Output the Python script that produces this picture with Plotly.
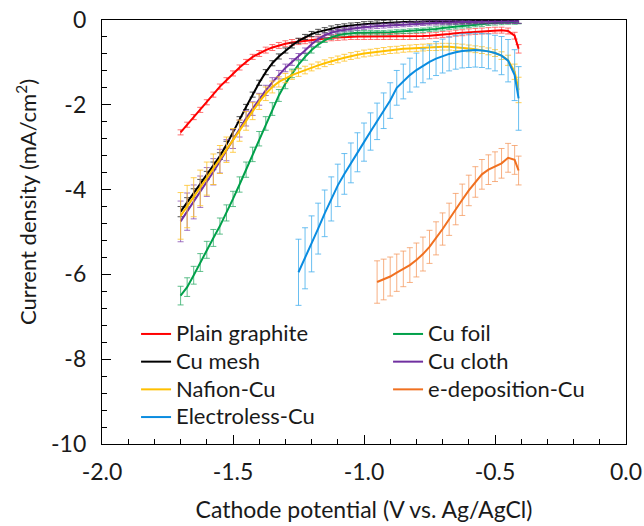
import plotly.graph_objects as go

# Cathode potential sampling points (V vs. Ag/AgCl)
POT = [-1.700, -1.675, -1.650, -1.625, -1.600, -1.575, -1.550, -1.525, -1.500, -1.475,
       -1.450, -1.425, -1.400, -1.375, -1.350, -1.325, -1.300, -1.275, -1.250, -1.225,
       -1.200, -1.175, -1.150, -1.125, -1.100, -1.075, -1.050, -1.025, -1.000, -0.975,
       -0.950, -0.925, -0.900, -0.875, -0.850, -0.825, -0.800, -0.775, -0.750, -0.725,
       -0.700, -0.675, -0.650, -0.625, -0.600, -0.575, -0.550, -0.525, -0.500, -0.475,
       -0.450, -0.425, -0.410]
POT_ELECTROLESS = POT[18:]
POT_EDEP = POT[30:]

plain_graphite = [-2.65, -2.47, -2.29, -2.12, -1.94, -1.76, -1.57, -1.42, -1.26, -1.12,
                  -0.99, -0.87, -0.79, -0.71, -0.65, -0.60, -0.56, -0.53, -0.51, -0.49,
                  -0.47, -0.45, -0.43, -0.42, -0.41, -0.40, -0.39, -0.39, -0.39, -0.39,
                  -0.39, -0.39, -0.39, -0.39, -0.39, -0.39, -0.39, -0.38, -0.37, -0.36,
                  -0.34, -0.33, -0.31, -0.30, -0.28, -0.27, -0.26, -0.25, -0.24, -0.24,
                  -0.26, -0.37, -0.68]
plain_graphite_err = [0.06] * 12 + [0.07] * 38 + [0.07, 0.08, 0.10]

cu_foil = [-6.50, -6.30, -6.02, -5.72, -5.42, -5.14, -4.86, -4.55, -4.22, -3.88,
           -3.53, -3.17, -2.80, -2.44, -2.10, -1.78, -1.50, -1.26, -1.05, -0.87,
           -0.71, -0.58, -0.48, -0.41, -0.36, -0.33, -0.31, -0.30, -0.30, -0.30,
           -0.30, -0.30, -0.29, -0.28, -0.27, -0.26, -0.25, -0.24, -0.22, -0.21,
           -0.19, -0.17, -0.16, -0.14, -0.13, -0.11, -0.10, -0.08, -0.07, -0.06,
           -0.05, -0.05, -0.04]
cu_foil_err = [0.22, 0.22, 0.21, 0.21, 0.20, 0.20, 0.19, 0.19, 0.18, 0.18,
               0.18, 0.17, 0.17, 0.16, 0.15, 0.14, 0.12, 0.10, 0.09, 0.08,
               0.07, 0.06] + [0.05] * 31

cu_mesh = [-4.52, -4.30, -4.08, -3.86, -3.66, -3.44, -3.21, -2.94, -2.66, -2.35,
           -2.05, -1.76, -1.48, -1.23, -1.02, -0.86, -0.72, -0.60, -0.49, -0.40,
           -0.33, -0.28, -0.24, -0.20, -0.17, -0.15, -0.13, -0.12, -0.10, -0.09,
           -0.08, -0.07, -0.06, -0.05, -0.05, -0.04, -0.04, -0.03, -0.03, -0.03,
           -0.03, -0.03, -0.03, -0.03, -0.03, -0.02, -0.02, -0.02, -0.02, -0.02,
           -0.02, -0.02, -0.02]
cu_mesh_err = [0.12, 0.11, 0.10, 0.10, 0.09, 0.09, 0.08, 0.08, 0.08, 0.07] + [0.06] * 43

cu_cloth = [-4.75, -4.52, -4.29, -4.05, -3.82, -3.58, -3.33, -3.07, -2.81, -2.56,
            -2.32, -2.09, -1.87, -1.66, -1.47, -1.29, -1.13, -0.99, -0.86, -0.72,
            -0.57, -0.45, -0.36, -0.30, -0.26, -0.23, -0.21, -0.19, -0.17, -0.16,
            -0.15, -0.14, -0.13, -0.12, -0.11, -0.10, -0.09, -0.08, -0.07, -0.07,
            -0.06, -0.06, -0.05, -0.05, -0.05, -0.04, -0.04, -0.04, -0.04, -0.03,
            -0.03, -0.03, -0.03]
cu_cloth_err = [0.48, 0.44, 0.40, 0.37, 0.34, 0.31, 0.28, 0.25, 0.22, 0.20,
                0.18, 0.16, 0.14, 0.12, 0.11, 0.10, 0.09, 0.08, 0.07, 0.06] + [0.05] * 33

nafion_cu = [-4.62, -4.40, -4.18, -3.96, -3.74, -3.52, -3.29, -3.06, -2.84, -2.61,
             -2.38, -2.15, -1.93, -1.74, -1.58, -1.46, -1.37, -1.30, -1.24, -1.18,
             -1.12, -1.07, -1.02, -0.97, -0.93, -0.89, -0.85, -0.82, -0.79, -0.77,
             -0.75, -0.73, -0.71, -0.70, -0.68, -0.67, -0.66, -0.65, -0.64, -0.64,
             -0.63, -0.63, -0.64, -0.65, -0.67, -0.69, -0.71, -0.74, -0.78, -0.84,
             -0.95, -1.22, -1.65]
nafion_cu_err = [0.55, 0.50, 0.46, 0.42, 0.39, 0.36, 0.33, 0.30, 0.28, 0.25,
                 0.22, 0.20, 0.18, 0.16, 0.14, 0.12, 0.11, 0.10, 0.09, 0.09] + [0.08] * 28 + \
                [0.08, 0.09, 0.12, 0.18, 0.30]

edep_cu = [-6.18, -6.12, -6.05, -5.96, -5.87, -5.78, -5.66, -5.52, -5.35, -5.15,
           -4.93, -4.70, -4.46, -4.24, -4.02, -3.82, -3.64, -3.53, -3.46, -3.38,
           -3.25, -3.30, -3.55]
edep_cu_err = [0.50, 0.48, 0.46, 0.44, 0.42, 0.41, 0.40, 0.40, 0.39, 0.39,
               0.38, 0.38, 0.37, 0.37, 0.36, 0.36, 0.35, 0.35, 0.35, 0.35,
               0.34, 0.34, 0.34]

electroless_cu = [-5.95, -5.62, -5.28, -4.92, -4.56, -4.22, -3.90, -3.63, -3.37, -3.12,
                  -2.88, -2.63, -2.39, -2.14, -1.90, -1.60, -1.45, -1.30, -1.18, -1.08,
                  -0.99, -0.91, -0.85, -0.80, -0.76, -0.73, -0.72, -0.71, -0.72, -0.74,
                  -0.78, -0.84, -0.96, -1.30, -1.85]
electroless_cu_err = [0.78, 0.72, 0.66, 0.60, 0.55, 0.52, 0.50, 0.48, 0.47, 0.46,
                      0.45, 0.44, 0.43, 0.42, 0.42, 0.41, 0.41, 0.40, 0.40, 0.40,
                      0.40, 0.40, 0.40, 0.40, 0.40, 0.40, 0.40, 0.40, 0.40, 0.41,
                      0.42, 0.45, 0.50, 0.60, 0.75]

X_TICKS = [-2.0, -1.5, -1.0, -0.5, 0.0]
X_TICK_TEXT = ["-2.0", "-1.5", "-1.0", "-0.5", "0.0"]
Y_TICKS = [-10, -8, -6, -4, -2, 0]
Y_TICK_TEXT = ["-10", "-8", "-6", "-4", "-2", "0"]

series = [
    ("Plain graphite", POT, plain_graphite, plain_graphite_err, "#FF0000", "rgba(255,70,70,0.75)"),
    ("Cu foil", POT, cu_foil, cu_foil_err, "#00A04A", "rgba(40,170,100,0.75)"),
    ("Cu mesh", POT, cu_mesh, cu_mesh_err, "#000000", "rgba(40,40,40,0.8)"),
    ("Cu cloth", POT, cu_cloth, cu_cloth_err, "#7030A0", "rgba(130,70,175,0.75)"),
    ("Nafion-Cu", POT, nafion_cu, nafion_cu_err, "#FFC000", "rgba(255,195,40,0.8)"),
    ("e-deposition-Cu", POT_EDEP, edep_cu, edep_cu_err, "#F07020", "rgba(244,150,90,0.75)"),
    ("Electroless-Cu", POT_ELECTROLESS, electroless_cu, electroless_cu_err, "#0A8CE0", "rgba(80,180,238,0.85)"),
]

FONT = "Lato, 'Open Sans', sans-serif"
TXT = "#1a1a1a"

fig = go.Figure()
for name, xs, ys, errs, col, ecol in series:
    fig.add_trace(go.Scatter(
        x=xs, y=ys, mode="lines",
        name='<span style="font-size:22px">' + name + '</span>',
        line=dict(color=col, width=2),
        error_y=dict(type="data", array=errs, visible=True, color=ecol, thickness=1, width=3),
    ))

axis_common = dict(
    showline=True, linecolor="#000000", linewidth=1.3, mirror=True,
    ticks="inside", ticklen=9, tickwidth=1.2, tickcolor="#000000",
    showgrid=False, zeroline=False, automargin=False,
    tickfont=dict(family=FONT, size=23, color=TXT),
)

fig.update_xaxes(
    range=[-2.0, 0.0], tickmode="array", tickvals=X_TICKS, ticktext=X_TICK_TEXT,
    minor=dict(tickmode="linear", tick0=0, dtick=0.1, ticks="inside", ticklen=5,
               tickwidth=1.2, tickcolor="#000000", showgrid=False),
    title=dict(text="Cathode potential (V vs. Ag/AgCl)", standoff=18,
               font=dict(family=FONT, size=23, color=TXT)),
    ticklabelstandoff=7,
    **axis_common,
)
fig.update_yaxes(
    range=[-10, 0], tickmode="array", tickvals=Y_TICKS, ticktext=Y_TICK_TEXT,
    minor=dict(tickmode="linear", tick0=0, dtick=0.4, ticks="inside", ticklen=5,
               tickwidth=1.2, tickcolor="#000000", showgrid=False),
    ticklabelstandoff=10,
    **axis_common,
)

fig.add_annotation(
    text="Current density (mA/cm<sup>2</sup>)", textangle=-90,
    xref="paper", yref="paper", x=-0.1431, y=0.5708,
    xanchor="center", yanchor="middle", showarrow=False,
    font=dict(family=FONT, size=22, color=TXT),
)

fig.update_layout(
    width=644, height=526,
    margin=dict(l=102, r=18, t=20, b=82, autoexpand=False),
    plot_bgcolor="white", paper_bgcolor="white",
    font=dict(family=FONT, size=20, color=TXT),
    legend=dict(
        orientation="h", x=0.065, y=0.304, xanchor="left", yanchor="top",
        entrywidth=207, entrywidthmode="pixels",
        bgcolor="rgba(0,0,0,0)", font=dict(family=FONT, size=19, color=TXT),
        tracegroupgap=0, itemwidth=30,
    ),
    showlegend=True,
)

fig.write_html("out.html")
